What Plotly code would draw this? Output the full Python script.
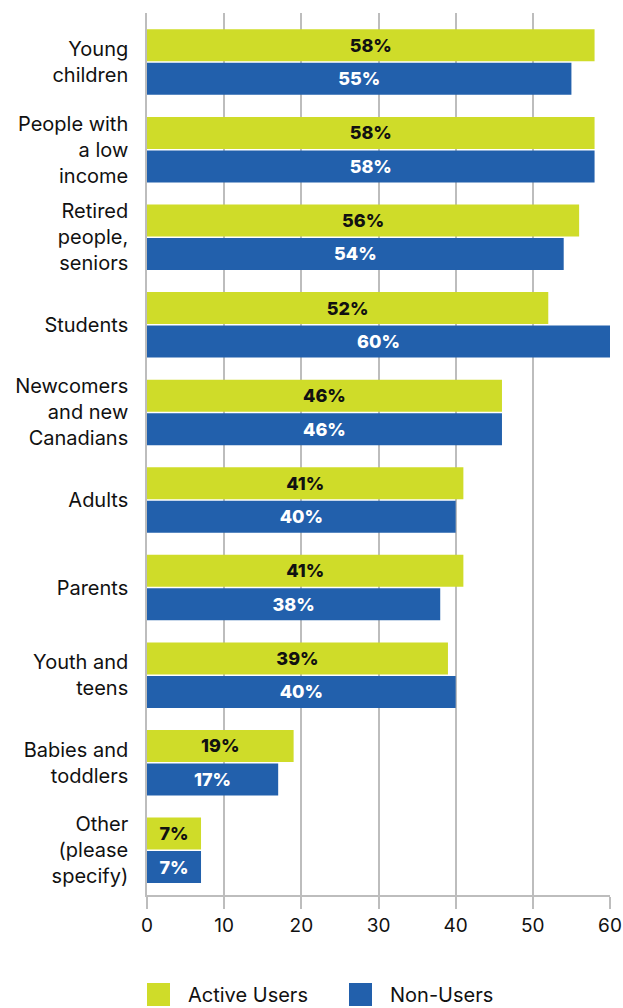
import plotly.graph_objects as go

categories = [
    "Young<br>children",
    "People with<br>a low<br>income",
    "Retired<br>people,<br>seniors",
    "Students",
    "Newcomers<br>and new<br>Canadians",
    "Adults",
    "Parents",
    "Youth and<br>teens",
    "Babies and<br>toddlers",
    "Other<br>(please<br>specify)",
]
active_users = [58, 58, 56, 52, 46, 41, 41, 39, 19, 7]
non_users = [55, 58, 54, 60, 46, 40, 38, 40, 17, 7]
x_ticks = [0, 10, 20, 30, 40, 50, 60]

GREEN = "#CFDC29"
BLUE = "#2260AC"
FONT = "Inter"

fig = go.Figure()
fig.add_trace(go.Bar(
    y=categories, x=active_users, orientation="h", name="Active Users",
    marker=dict(color=GREEN, line=dict(width=0)),
    texttemplate="%{x}%", textposition="inside", insidetextanchor="middle",
    textangle=0, constraintext="none",
    textfont=dict(family=FONT, size=18, color="#111111", weight=800),
    showlegend=False,
))
fig.add_trace(go.Bar(
    y=categories, x=non_users, orientation="h", name="Non-Users",
    marker=dict(color=BLUE, line=dict(width=0)),
    texttemplate="%{x}%", textposition="inside", insidetextanchor="middle",
    textangle=0, constraintext="none",
    textfont=dict(family=FONT, size=18, color="#FFFFFF", weight=800),
    showlegend=False,
))

W, H = 623, 1008
ml, mr, mt, mb = 147, 13, 13, 113

fig.update_layout(
    width=W, height=H,
    margin=dict(l=ml, r=mr, t=mt, b=mb, pad=0, autoexpand=False),
    paper_bgcolor="white", plot_bgcolor="white",
    barmode="group", bargap=0.235, bargroupgap=0.045,
    font=dict(family=FONT, size=20, color="#111111"),
    xaxis=dict(
        range=[0, 60], tickvals=x_ticks, ticktext=[str(v) for v in x_ticks],
        showgrid=True, gridcolor="#BDBDBD", gridwidth=1.5,
        showline=True, linecolor="#BDBDBD", linewidth=1.5,
        ticks="outside", ticklen=12, tickcolor="#BDBDBD", tickwidth=1.5,
        tickfont=dict(size=19), zeroline=False, fixedrange=True, automargin=False,
    ),
    yaxis=dict(
        type="category", range=[9.51, -0.56],
        showline=True, linecolor="#BDBDBD", linewidth=1.5,
        ticks="", showgrid=False, ticklabelstandoff=13,
        tickfont=dict(size=20), fixedrange=True, automargin=False,
    ),
)

# Legend swatches drawn below the axis
leg_y0, leg_y1 = 1 - (983 - mt) / (H - mt - mb), 1 - (1006 - mt) / (H - mt - mb)
pw = W - ml - mr
def px_to_paper_x(px):
    return (px - ml) / pw

for label, color, x0 in [("Active Users", GREEN, 147), ("Non-Users", BLUE, 349)]:
    fig.add_shape(type="rect", xref="paper", yref="paper",
                  x0=px_to_paper_x(x0), x1=px_to_paper_x(x0 + 23),
                  y0=leg_y1, y1=leg_y0, fillcolor=color, line=dict(width=0))
    fig.add_annotation(xref="paper", yref="paper",
                       x=px_to_paper_x(x0 + 39), y=(leg_y0 + leg_y1) / 2,
                       text=label, showarrow=False, xanchor="left", yanchor="middle",
                       font=dict(size=20, family=FONT, color="#111111"))

fig.write_html("out.html")
